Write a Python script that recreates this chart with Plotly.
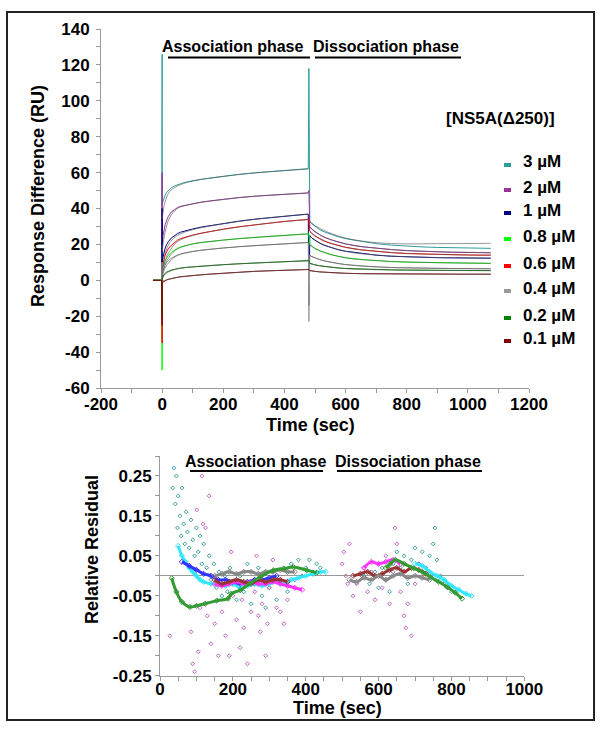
import plotly.graph_objects as go

W, H = 600, 731
FONT = "Arial, Liberation Sans, sans-serif"

# ---------------- Sensorgram data (top panel) ----------------
CONC_LABELS = ["3 µM", "2 µM", "1 µM", "0.8 µM", "0.6 µM", "0.4 µM", "0.2 µM", "0.1 µM"]
CONC_COLORS = ["#2f9c9c", "#993399", "#000080", "#00ff00", "#ff0000", "#999999", "#008000", "#800000"]

T_BASE = [-30, -1]
BASE_VALUES = [0, 0]
T_ASSOC = [0, 3, 6, 10, 15, 20, 30, 40, 50, 60, 80, 100, 130, 160, 200, 250, 300, 350, 400, 440, 478]
T_DISS = [483, 490, 500, 515, 530, 550, 575, 600, 650, 700, 750, 800, 850, 900, 950, 1000, 1040, 1075]

SPIKE_ON = [126, 60, 40, -50, -35, 10, -20, -25]
SPIKE_OFF = [118, 50, -14, 26, 34, -23, 11, 6]

ASSOC = [
    [42, 44, 46, 47.5, 49, 50, 51.5, 52.5, 53.2, 53.8, 54.8, 55.5, 56.3, 57, 58, 59, 59.8, 60.5, 61.2, 61.7, 62.2],
    [20, 25, 28, 31, 33.5, 35.5, 38, 39.5, 40.5, 41.2, 42, 42.8, 43.6, 44.3, 45.2, 46.1, 46.8, 47.4, 47.9, 48.3, 48.7],
    [10, 13, 15.5, 18, 20, 21.5, 23.5, 25, 26, 26.8, 27.8, 28.6, 29.7, 30.6, 31.7, 32.9, 34, 34.9, 35.7, 36.3, 36.9],
    [5, 7.5, 9.5, 11, 12.4, 13.8, 15.5, 16.8, 17.8, 18.5, 19.5, 20.3, 21, 21.7, 22.4, 23.2, 23.9, 24.5, 25.1, 25.5, 25.9],
    [6, 9, 11.5, 14, 16, 17.5, 19.5, 21, 22.3, 23.2, 24.3, 25.2, 26.3, 27.3, 28.5, 29.8, 30.9, 31.9, 32.8, 33.4, 34],
    [3, 5.5, 7, 8.5, 10, 11, 12.3, 13.3, 14.1, 14.7, 15.5, 16.1, 16.8, 17.4, 18, 18.7, 19.3, 19.8, 20.3, 20.7, 21.1],
    [1, 2.3, 3.2, 4, 4.6, 5.1, 5.7, 6.1, 6.5, 6.8, 7.2, 7.5, 7.9, 8.3, 8.7, 9.2, 9.6, 10, 10.3, 10.5, 10.8],
    [-1.5, -1, -0.6, -0.2, 0.2, 0.5, 1, 1.4, 1.7, 2, 2.4, 2.7, 3.1, 3.5, 4, 4.5, 5, 5.3, 5.6, 5.9, 6.1],
]
DISS = [
    [33, 31.5, 30, 28.3, 27, 25.6, 24.3, 23.2, 21.6, 20.4, 19.6, 19, 18.6, 18.3, 18.1, 18, 17.9, 17.8],
    [30, 28.5, 27, 25.4, 24, 22.7, 21.4, 20.3, 18.8, 17.8, 17.1, 16.5, 16.1, 15.8, 15.6, 15.5, 15.4, 15.3],
    [25, 23.5, 22.2, 20.7, 19.5, 18.3, 17.1, 16.2, 14.9, 14, 13.4, 13, 12.8, 12.6, 12.5, 12.4, 12.4, 12.3],
    [20, 18.8, 17.6, 16.4, 15.4, 14.4, 13.4, 12.6, 11.6, 10.9, 10.4, 10.1, 9.9, 9.7, 9.6, 9.5, 9.5, 9.4],
    [27.5, 26, 24.6, 23.1, 21.8, 20.6, 19.4, 18.4, 17, 16.1, 15.4, 14.9, 14.6, 14.3, 14.2, 14.1, 14, 14],
    [14, 13.2, 12.4, 11.5, 10.8, 10.1, 9.4, 8.8, 8, 7.5, 7.1, 6.9, 6.7, 6.6, 6.5, 6.5, 6.4, 6.4],
    [9.5, 9, 8.6, 8.1, 7.7, 7.3, 6.9, 6.6, 6.2, 5.9, 5.8, 5.7, 5.6, 5.5, 5.5, 5.4, 5.4, 5.4],
    [5.5, 5.2, 5, 4.7, 4.5, 4.3, 4.1, 3.9, 3.7, 3.6, 3.5, 3.5, 3.4, 3.4, 3.4, 3.4, 3.4, 3.4],
]

# fitted curves
T_FIT_ASSOC = [0, 10, 25, 50, 100, 200, 300, 400, 478]
T_FIT_DISS = [483, 520, 600, 700, 800, 900, 1000, 1075]
FIT_ASSOC = [
    [34, 44, 49.5, 52.5, 55.3, 57.9, 59.8, 61.1, 62],
    [16, 27, 35, 40, 42.6, 45, 46.8, 47.9, 48.6],
    [6, 15, 21, 25, 28.2, 31.5, 33.9, 35.7, 36.8],
    [3, 9, 13.5, 17.5, 20.3, 22.4, 23.9, 25, 25.8],
    [4, 11, 16.5, 21.5, 25, 28.4, 30.8, 32.7, 33.8],
    [2, 7, 10.5, 13.8, 16, 18, 19.3, 20.3, 21],
    [0.5, 3.5, 5, 6.4, 7.5, 8.7, 9.6, 10.3, 10.8],
    [-0.5, 0, 0.8, 1.6, 2.6, 3.9, 4.9, 5.6, 6.1],
]
FIT_DISS = [
    [32.5, 28.5, 23.5, 21, 20.3, 20.4, 20.5, 20.6],
    [29.5, 25, 20.2, 17.9, 16.6, 15.9, 15.6, 15.4],
    [24.5, 20.5, 16.1, 14.1, 13.1, 12.7, 12.5, 12.4],
    [19.5, 16.2, 12.5, 11, 10.2, 9.8, 9.6, 9.5],
    [27, 22.9, 18.3, 16.2, 15, 14.4, 14.1, 14],
    [13.7, 11.4, 8.7, 7.5, 6.9, 6.6, 6.5, 6.4],
    [9.3, 8, 6.5, 5.9, 5.7, 5.5, 5.4, 5.4],
    [5.3, 4.6, 3.9, 3.6, 3.5, 3.4, 3.4, 3.4],
]

# tick labels
TOP_X_TICKS = [-200, 0, 200, 400, 600, 800, 1000, 1200]
TOP_X_TEXT = ["-200", "0", "200", "400", "600", "800", "1000", "1200"]
TOP_Y_TICKS = [-60, -40, -20, 0, 20, 40, 60, 80, 100, 120, 140]
TOP_Y_TEXT = ["-60", "-40", "-20", "0", "20", "40", "60", "80", "100", "120", "140"]
BOT_X_TICKS = [0, 200, 400, 600, 800, 1000]
BOT_X_TEXT = ["0", "200", "400", "600", "800", "1000"]
BOT_Y_TICKS = [-0.25, -0.15, -0.05, 0.05, 0.15, 0.25]
BOT_Y_TEXT = ["-0.25", "-0.15", "-0.05", "0.05", "0.15", "0.25"]

# ---------------- Residual data (bottom panel) ----------------
TEAL_T = [30, 35, 38, 42, 45, 48, 50, 55, 58, 60, 65, 68, 72, 75, 80, 85, 90, 95, 100, 105, 110, 115, 120, 128,
          135, 140, 148, 155, 162, 170, 178, 185, 192, 200, 210, 220, 230, 240, 250, 260, 270, 280, 290, 300,
          310, 320, 330, 340, 350, 360, 370, 380, 390, 400, 410, 420, 430, 440,
          560, 575, 590, 600, 610, 620, 630, 640, 650, 660, 670, 680, 690, 700, 710, 720, 730, 740, 750, 755,
          760, 770, 780, 790, 800]
TEAL_R = [0.31, 0.22, 0.27, 0.18, 0.25, 0.12, 0.2, 0.15, 0.1, 0.22, 0.13, 0.08, 0.16, 0.11, 0.07, 0.14, 0.09, 0.05,
          0.12, 0.06, 0.1, 0.03, 0.08, 0.02, 0.05, -0.01, 0.03, -0.03, 0.01, -0.05, 0.0, -0.04, 0.02, -0.02, -0.06,
          0.0, -0.04, 0.03, -0.07, -0.02, 0.02, -0.05, -0.08, -0.03, 0.01, -0.06, -0.02, 0.02, -0.04, 0.03, -0.01,
          0.04, 0.0, 0.02, 0.04, 0.01, 0.03, 0.02,
          0.0, -0.02, 0.01, -0.03, 0.02, -0.01, -0.04, 0.03, 0.06, 0.02, 0.05, -0.02, 0.04, 0.07, 0.03, 0.06, 0.02,
          0.05, 0.08, 0.12, 0.04, 0.0, -0.02, -0.03, -0.04]

PURPLE_T = [27, 50, 85, 90, 95, 100, 101, 105, 110, 115, 118, 125, 130, 135, 140, 150, 160, 170, 180, 190, 195,
            200, 210, 220, 225, 230, 240, 250, 260, 265, 270, 275, 280, 290, 295, 300, 310, 320, 330, 340, 350,
            500, 505, 510, 515, 520, 530, 540, 550, 560, 570, 580, 590, 600, 610, 620, 630, 640, 645, 650, 660,
            670, 675, 680, 690, 700, 710]
PURPLE_R = [-0.15, 0.35, -0.14, -0.22, -0.24, 0.33, 0.165, -0.19, -0.08, 0.25, 0.13, 0.12, -0.1, 0.2, -0.17,
            -0.12, -0.2, -0.09, -0.15, -0.2, 0.06, -0.05, -0.11, -0.18, -0.06, -0.13, -0.22, -0.09, -0.04, 0.05,
            -0.1, -0.14, -0.07, -0.2, -0.12, -0.03, 0.04, -0.08, -0.09, -0.12, -0.06,
            0.03, 0.06, 0.0, -0.02, 0.08, -0.05, -0.02, -0.09, 0.02, -0.04, 0.01, -0.06, 0.03, -0.03, 0.05, -0.07,
            0.01, 0.12, 0.08, -0.04, -0.1, -0.13, -0.07, -0.15, -0.02, 0.03]

BAND_COLORS = ["#33e6ff", "#3333ff", "#ff33ff", "#993333", "#888888", "#339933"]
BAND_T = [
    [50, 60, 70, 80, 90, 100, 110, 120, 140, 160, 180, 200, 220, 240, 260, 280, 300, 320, 340, 360, 380, 400, 420, 440, 455, None,
     700, 720, 740, 760, 780, 800, 820, 840, 855],
    [60, 80, 100, 120, 140, 160, 180, 200, 220, 240, 260, 280, 300, 320],
    [150, 170, 190, 210, 230, 250, 270, 290, 310, 330, 350, 370, 390, None, 560, 580, 600, 620, 640, 660],
    [150, 170, 190, 210, 230, 250, 270, 290, 310, 330, 350, None, 530, 550, 570, 590, 610, 630, 650, 670, 690, 710, 730],
    [150, 170, 190, 210, 230, 250, 270, 290, 310, 330, 350, 370, None, 520, 540, 560, 580, 600, 620, 640, 660, 680, 700, 720, 740],
    [32, 45, 60, 82, 100, 124, 156, 187, 195, 220, 247, 275, 311, 340, 366, 403, 430, None,
     620, 632, 646, 670, 696, 720, 742, 765, 788, 810, 829],
]
BAND_R = [
    [0.075, 0.05, 0.035, 0.02, 0.01, 0.0, -0.01, -0.015, -0.02, -0.02, -0.025, -0.02, -0.03, -0.025, -0.02, -0.025, -0.02,
     -0.015, -0.02, -0.01, -0.005, 0.0, 0.005, 0.01, 0.01, None,
     0.03, 0.025, 0.01, 0.0, -0.01, -0.025, -0.035, -0.045, -0.05],
    [0.035, 0.025, 0.015, 0.005, 0.0, -0.01, -0.01, -0.015, -0.02, -0.015, -0.01, -0.01, -0.005, 0.0],
    [-0.02, -0.025, -0.02, -0.015, -0.02, -0.015, -0.02, -0.02, -0.015, -0.02, -0.025, -0.03, -0.035, None,
     0.02, 0.035, 0.03, 0.035, 0.04, 0.03],
    [-0.01, -0.02, -0.015, -0.01, -0.015, -0.02, -0.01, -0.015, -0.01, -0.01, -0.015, None,
     0.0, 0.005, 0.01, 0.0, 0.005, 0.015, 0.02, 0.01, 0.02, 0.015, 0.005],
    [0.0, 0.005, 0.01, 0.005, 0.01, 0.01, 0.005, 0.01, 0.01, 0.015, 0.01, 0.01, None,
     -0.01, -0.015, -0.005, -0.01, 0.0, -0.01, 0.0, 0.005, -0.005, 0.0, -0.005, -0.01],
    [-0.006, -0.04, -0.065, -0.078, -0.075, -0.07, -0.062, -0.057, -0.045, -0.036, -0.019, -0.003, 0.014, 0.018, 0.022,
     0.014, 0.008, None,
     0.02, 0.03, 0.04, 0.03, 0.019, 0.01, -0.003, -0.015, -0.028, -0.042, -0.057],
]

# ---------------- figure ----------------
fig = go.Figure()

for i in range(len(CONC_LABELS)):
    t = T_BASE + [0] + T_ASSOC + [480] + T_DISS
    y = BASE_VALUES + [SPIKE_ON[i]] + ASSOC[i] + [SPIKE_OFF[i]] + DISS[i]
    fig.add_trace(go.Scatter(x=t, y=y, mode="lines", line=dict(color=CONC_COLORS[i], width=1),
                             xaxis="x", yaxis="y", showlegend=False, hoverinfo="skip"))
for i in range(len(CONC_LABELS)):
    fig.add_trace(go.Scatter(x=T_FIT_ASSOC + [None] + T_FIT_DISS, y=FIT_ASSOC[i] + [None] + FIT_DISS[i],
                             mode="lines", line=dict(color="rgba(90,90,90,0.8)", width=0.8, shape="spline"),
                             xaxis="x", yaxis="y", showlegend=False, hoverinfo="skip"))

# residuals
fig.add_trace(go.Scatter(x=TEAL_T, y=TEAL_R, mode="markers",
                         marker=dict(color="#3a9e9e", size=3, symbol="diamond-open", line=dict(width=1)),
                         xaxis="x2", yaxis="y2", showlegend=False, hoverinfo="skip"))
fig.add_trace(go.Scatter(x=PURPLE_T, y=PURPLE_R, mode="markers",
                         marker=dict(color="#bb66bb", size=3, symbol="diamond-open", line=dict(width=1)),
                         xaxis="x2", yaxis="y2", showlegend=False, hoverinfo="skip"))
for i in range(len(BAND_COLORS)):
    fig.add_trace(go.Scatter(x=BAND_T[i], y=BAND_R[i], mode="lines+markers",
                             line=dict(color=BAND_COLORS[i], width=3, shape="spline"),
                             marker=dict(color=BAND_COLORS[i], size=4, symbol="diamond-open"),
                             xaxis="x2", yaxis="y2", showlegend=False, hoverinfo="skip"))


def px(x):
    return x / W


def py(y):
    return 1 - y / H


axis_common = dict(showline=True, linecolor="#999999", linewidth=1, ticks="outside", ticklen=4,
                   tickcolor="#999999", showgrid=False, zeroline=False, automargin=False,
                   tickfont=dict(family=FONT, size=17, color="black", weight="bold"))

fig.update_layout(
    width=W, height=H, margin=dict(l=0, r=0, t=0, b=0, autoexpand=False),
    paper_bgcolor="white", plot_bgcolor="white",
    xaxis=dict(domain=[px(101), px(529)], range=[-200, 1200], tickvals=TOP_X_TICKS, ticktext=TOP_X_TEXT,
               minor=dict(dtick=100, tick0=0, ticklen=4, tickcolor="#999999", ticks="outside"),
               ticklabelstandoff=-3, anchor="y", **axis_common),
    yaxis=dict(domain=[py(388), py(29)], range=[-60, 140], tickvals=TOP_Y_TICKS, ticktext=TOP_Y_TEXT,
               minor=dict(dtick=10, tick0=0, ticklen=4, tickcolor="#999999", ticks="outside"),
               ticklabelstandoff=3, anchor="x", **axis_common),
    xaxis2=dict(domain=[px(160), px(524.3)], range=[0, 1000], tickvals=BOT_X_TICKS, ticktext=BOT_X_TEXT,
                minor=dict(dtick=50, tick0=0, ticklen=4, tickcolor="#999999", ticks="outside"),
                ticklabelstandoff=-6, anchor="y2", **axis_common),
    yaxis2=dict(domain=[py(675.7), py(456)], range=[-0.25, 0.30], tickvals=BOT_Y_TICKS, ticktext=BOT_Y_TEXT,
                minor=dict(dtick=0.05, tick0=0, ticklen=4, tickcolor="#999999", ticks="outside"),
                anchor="x2", **axis_common),
)
fig.layout.yaxis2.zeroline = True
fig.layout.yaxis2.zerolinecolor = "#999999"
fig.layout.yaxis2.zerolinewidth = 1

annotations = []
shapes = []


def label(text, x, y, size=17, angle=0, xanchor="center"):
    annotations.append(dict(text=text, x=px(x), y=py(y), xref="paper", yref="paper", showarrow=False,
                            xanchor=xanchor, yanchor="middle", textangle=angle,
                            font=dict(family=FONT, size=size, color="black", weight="bold")))


def hline(x0, x1, y, width=2):
    shapes.append(dict(type="line", xref="paper", yref="paper", x0=px(x0), x1=px(x1), y0=py(y), y1=py(y),
                       line=dict(color="black", width=width)))


# top panel titles
label("Response Difference (RU)", 38, 196, size=18, angle=-90)
label("Time (sec)", 310, 425, size=18)
label("Association phase", 233, 47, size=16)
label("Dissociation phase", 386, 47, size=16)
hline(168, 310, 57.5)
hline(315, 461, 57.5)

# legend
label("[NS5A(Δ250)]", 500, 118, size=17)
LEG_Y = [162, 187, 210, 236, 263, 288, 315, 338]
for i, lab in enumerate(CONC_LABELS):
    label(lab, 521, LEG_Y[i], size=17, xanchor="left")
    shapes.append(dict(type="rect", xref="paper", yref="paper", x0=px(504), x1=px(511),
                       y0=py(LEG_Y[i] + 5), y1=py(LEG_Y[i] + 1), fillcolor=CONC_COLORS[i], line=dict(width=0)))

# bottom panel titles
label("Relative Residual", 92, 550, size=18, angle=-90)
label("Time (sec)", 337, 708, size=18)
label("Association phase", 255, 461, size=16)
label("Dissociation phase", 407.5, 461, size=16)
hline(190, 323, 471)
hline(337, 482, 471)

# frame
shapes.append(dict(type="rect", xref="paper", yref="paper", x0=px(7), x1=px(594), y0=py(720), y1=py(12),
                   line=dict(color="#222222", width=2), fillcolor="rgba(0,0,0,0)"))

fig.update_layout(annotations=annotations, shapes=shapes)
fig.write_html("out.html", config={"displayModeBar": False},
               post_script="document.body.style.margin='0px';document.body.style.overflow='hidden';")
